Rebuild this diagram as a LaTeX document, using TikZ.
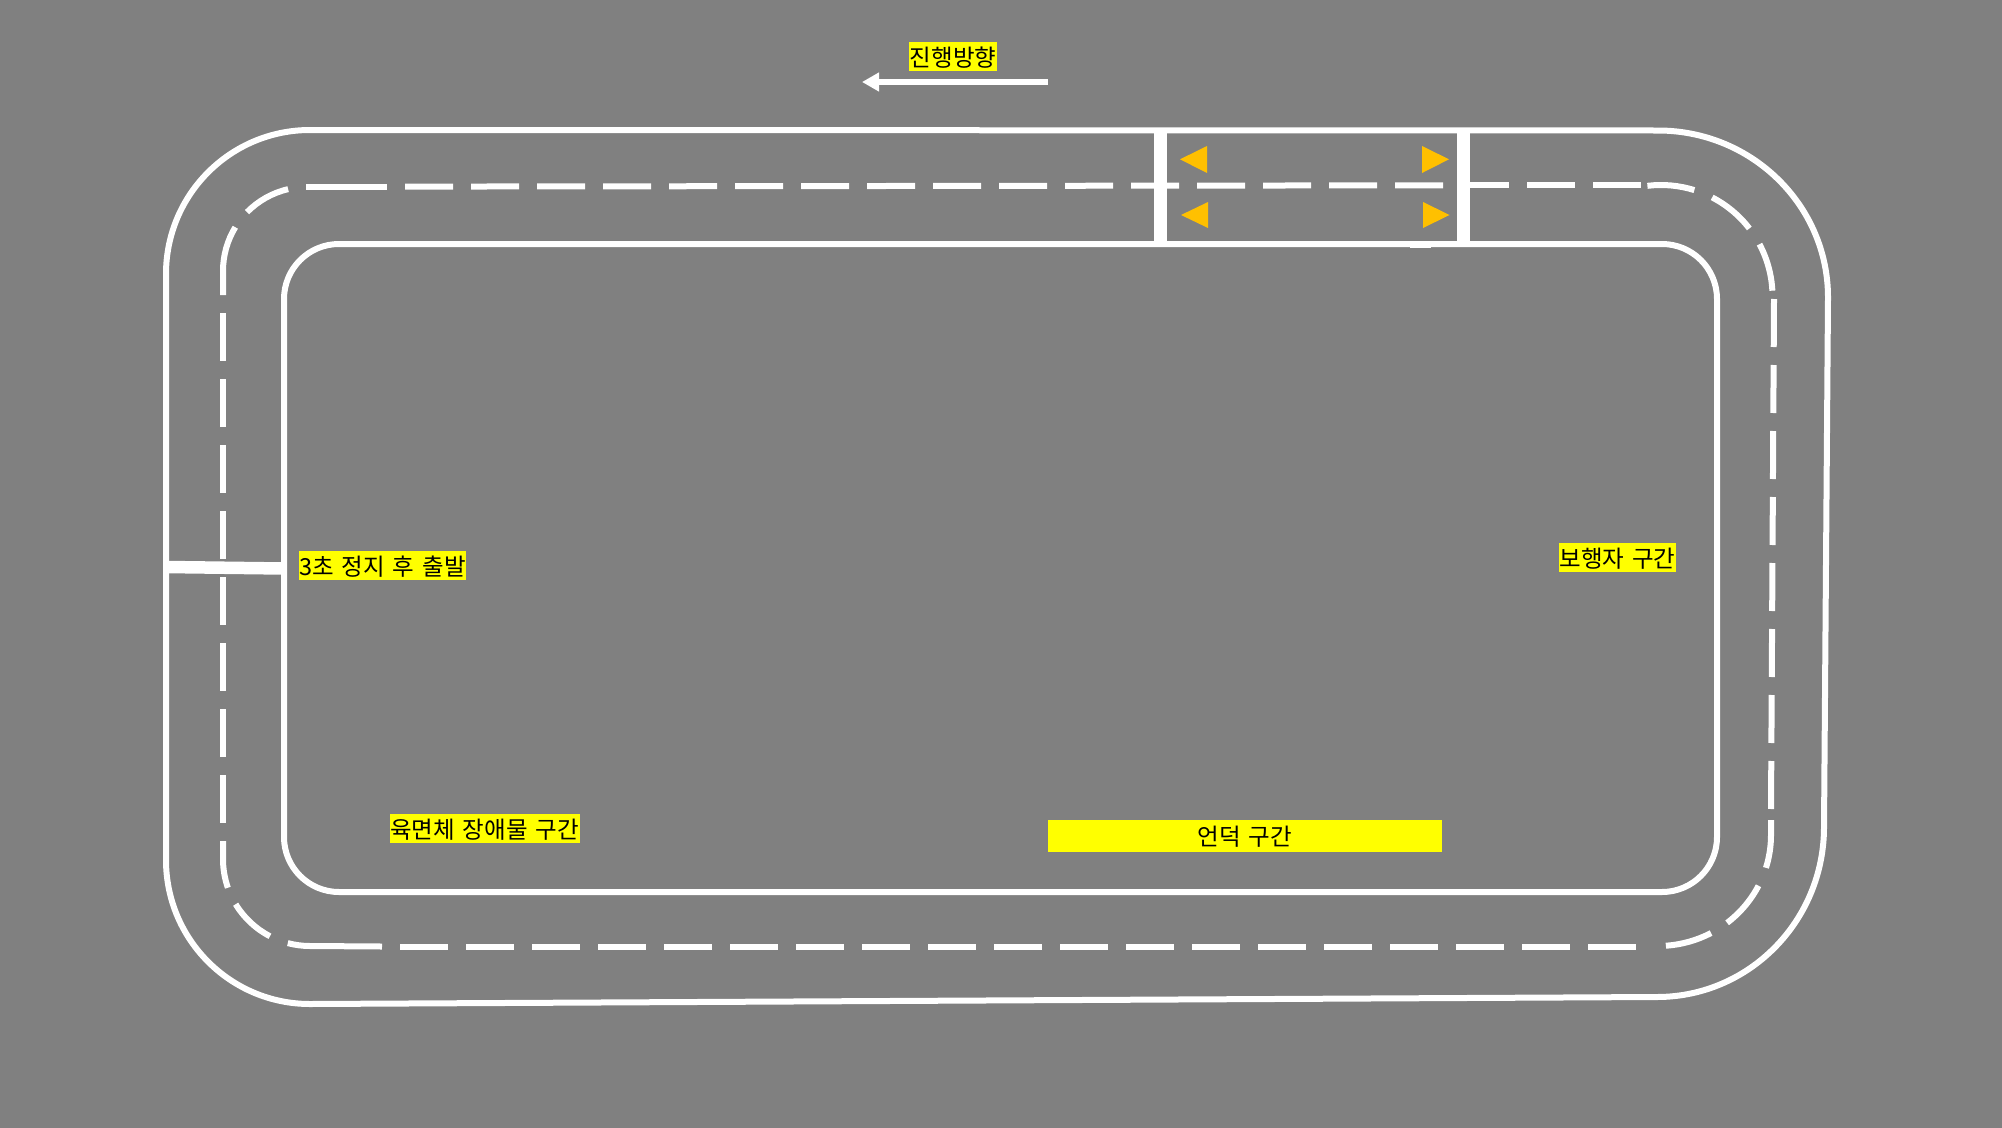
\documentclass[tikz,border=0pt]{standalone}
\usepackage{xcolor}
\usepackage{fontspec}
\usepackage{tikz}
\usetikzlibrary{arrows.meta, positioning}
\newfontfamily\krfont[WordSpace=1.5]{Noto Sans CJK KR}
\definecolor{roadgray}{RGB}{128,128,128}
\definecolor{marker}{RGB}{255,192,0}
\definecolor{tagyellow}{RGB}{255,255,0}

\begin{document}
\begin{tikzpicture}[x=1pt, y=-1pt, font=\krfont\fontsize{23.5}{28}\selectfont,
        roadline/.style={draw=white, line width=6pt},
        roadwall/.style={draw=white, line width=13pt},
        centerdash/.style={draw=white, line width=6pt, dash pattern=on 48pt off 18pt},
        tag/.style={fill=tagyellow, text=black, inner sep=0pt, text height=22pt, text depth=3pt, minimum height=29pt}]
        \useasboundingbox (0,0) rectangle (2002,1127);
        \fill [roadgray] (-3,-3) rectangle (2005,1130);

        % track edges
        \draw [roadline] (310,130) -- (1658,130.5) arc[start angle=270, end angle=360, x radius=170, y radius=167] -- (1824,827) arc[start angle=0, end angle=90, x radius=167, y radius=170] -- (310,1004) arc[start angle=90, end angle=180, radius=144] -- (166,274) arc[start angle=180, end angle=270, radius=144] -- cycle;
        \draw [roadline, rounded corners=55pt] (284,244) rectangle (1717,892);
        \draw [draw=white, line width=4pt] (1410,246) -- (1431,246);

        % center line, straight parts
        \draw [roadline] (306,187) -- (387,187);
        \draw [centerdash] (405,186.6) -- (1443,185.3);
        \draw [centerdash] (1461,185) -- (1641,185);
        \draw [centerdash] (1774,299) -- (1771,809);
        \draw [centerdash] (400,946.5) -- (1636,946.5);
        \draw [centerdash] (223,313) -- (223,823);

        % center line, corners
        \draw [roadline] (223,295) -- (223,271) arc[start angle=180, end angle=211.4, radius=84];
        \draw [roadline] (307,271) ++(224.5:84) arc[start angle=224.5, end angle=257, radius=84];
        \draw [roadline] (1661,296.5) ++(263:111.5) arc[start angle=263, end angle=287.4, radius=111.5];
        \draw [roadline] (1661,296.5) ++(297.3:111.5) arc[start angle=297.3, end angle=322.4, radius=111.5];
        \draw [roadline] (1661,296.5) ++(332:111.5) arc[start angle=332, end angle=357, radius=111.5];
        \draw [roadline] (1771,820) -- (1771,835) arc[start angle=0, end angle=17.2, x radius=113, y radius=111];
        \draw [roadline] (1658,835) ++(27.2:113 and 111) arc[start angle=27.2, end angle=52.3, x radius=113, y radius=111];
        \draw [roadline] (1658,835) ++(62:113 and 111) arc[start angle=62, end angle=86, x radius=113, y radius=111];
        \draw [roadline] (223,841) -- (223,859) arc[start angle=180, end angle=160.7, radius=87];
        \draw [roadline] (310,859) ++(148.7:87) arc[start angle=148.7, end angle=117.4, radius=87];
        \draw [roadline] (310,859) ++(104.8:87) arc[start angle=104.8, end angle=90, radius=87] -- (382,946.5);

        % stop lines
        \draw [roadwall] (1160.5,130) -- (1160.5,244);
        \draw [roadwall] (1463.5,130) -- (1463.5,244);
        \draw [draw=white, line width=12.5pt] (166,567) -- (284,568.5);

        % crossing markers
        \fill [marker] (1180,159.3) -- (1207,146) -- (1207,173) -- cycle;
        \fill [marker] (1181,215) -- (1208,202) -- (1208,228) -- cycle;
        \fill [marker] (1449,159.3) -- (1422,146) -- (1422,173) -- cycle;
        \fill [marker] (1449.5,215) -- (1423,202) -- (1423,228) -- cycle;

        % direction arrow
        \node (heading) [tag, minimum width=88pt] at (953,56.5) {진행방향};
        \coordinate (arrowstart) at (1048,82); \coordinate (arrowend) at (862,82);
        \draw [draw=white, line width=6pt, -{Triangle[length=17pt, width=18pt]}] (arrowstart) -- (arrowend);

        % section labels
        \node (stopstart) [tag, minimum width=167pt] at (382.5,565.5) {3초 정지 후 출발};
        \node (obstacle) [tag, minimum width=190pt] at (484.5,828.5) {육면체 장애물 구간};
        \node (hill) [tag, minimum width=394pt, minimum height=32pt] at (1245,836) {언덕 구간};
        \node (walker) [tag, minimum width=117pt] at (1617.5,557.5) {보행자 구간};
    \end{tikzpicture}
\end{document}
